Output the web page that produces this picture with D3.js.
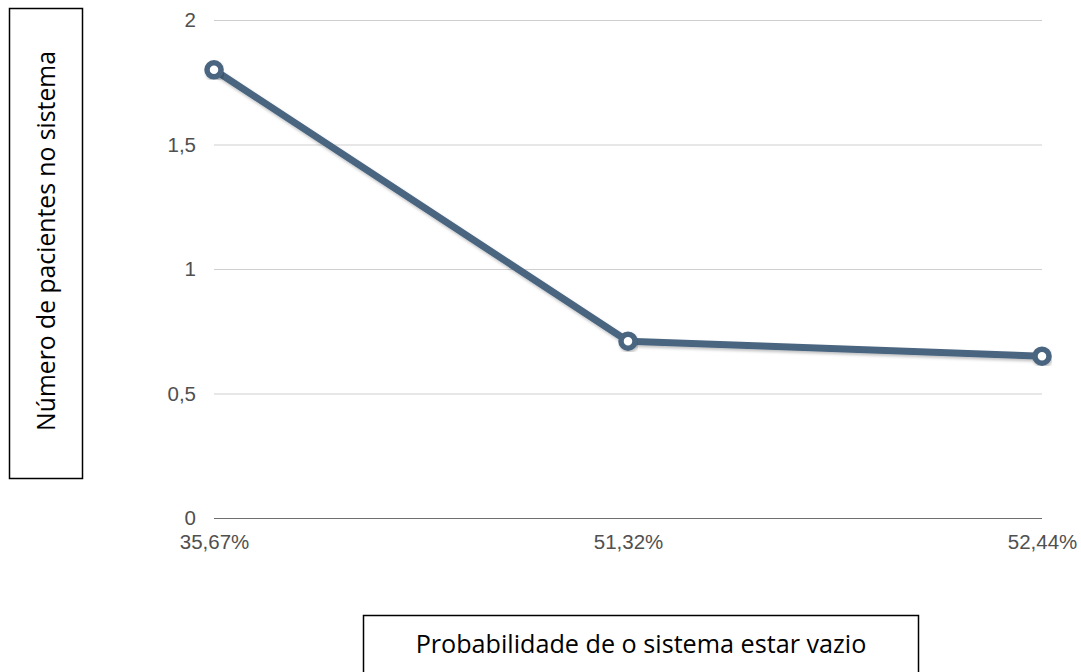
<!DOCTYPE html>
<html>
<head>
<meta charset="utf-8">
<script src="https://cdn.jsdelivr.net/npm/d3@7"></script>
<style>
  html, body { margin: 0; padding: 0; background: #fff; }
  svg { display: block; }
</style>
</head>
<body>
<svg id="chart" width="1081" height="672"></svg>
<script>
const categories = ["35,67%", "51,32%", "52,44%"];
const values = [1.80, 0.71, 0.65];
const yTicks = [0, 0.5, 1, 1.5, 2];
const yTickLabels = ["0", "0,5", "1", "1,5", "2"];
const xTitle = "Probabilidade de o sistema estar vazio";
const yTitle = "Número de pacientes no sistema";

(function () {
const svg = d3.select("#chart");
const mLeft = 214, mRight = 1042, mTop = 20, mBottom = 518;

const x = d3.scalePoint().domain(categories).range([mLeft, mRight]).padding(0);
const y = d3.scaleLinear().domain([0, 2]).range([mBottom, mTop]);

const defs = svg.append("defs");
const f = defs.append("filter").attr("id", "shadow").attr("x", "-20%").attr("y", "-20%").attr("width", "140%").attr("height", "140%");
f.append("feDropShadow").attr("dx", 1).attr("dy", 2).attr("stdDeviation", 1.5).attr("flood-color", "#000").attr("flood-opacity", 0.25);

const tickFont = "Liberation Sans, Arial, sans-serif";
// gridlines
const yAxis = d3.axisLeft(y).tickValues(yTicks).tickSize(-(mRight - mLeft)).tickPadding(18)
  .tickFormat((d, i) => yTickLabels[i]);
const gy = svg.append("g").attr("transform", `translate(${mLeft},0)`).call(yAxis);
gy.select(".domain").remove();
gy.selectAll(".tick line").attr("stroke", d => d === 0 ? "#6e6e6e" : "#cfcfcf").attr("stroke-width", 1);
gy.selectAll(".tick text").attr("font-family", tickFont).attr("font-size", 20.5)
  .attr("fill", "#505050").attr("dy", "0.34em");

// x axis labels
const xAxis = d3.axisBottom(x).tickSize(0).tickPadding(12);
const gx = svg.append("g").attr("transform", `translate(0,${mBottom})`).call(xAxis);
gx.select(".domain").remove();
gx.selectAll(".tick text").attr("font-family", tickFont).attr("font-size", 20.5)
  .attr("fill", "#505050").attr("dy", "0.95em");

// line
const color = "#4a6580";
const line = d3.line().x((d, i) => x(categories[i])).y(d => y(d));
svg.append("path").datum(values).attr("d", line).attr("fill", "none")
  .attr("stroke", color).attr("stroke-width", 7).attr("stroke-linejoin", "round").attr("filter", "url(#shadow)");
svg.append("g").selectAll("circle").data(values).join("circle")
  .attr("cx", (d, i) => x(categories[i])).attr("cy", d => y(d)).attr("r", 7)
  .attr("fill", "#fff").attr("stroke", color).attr("stroke-width", 5.5).attr("filter", "url(#shadow)");

// y title box
svg.append("rect").attr("x", 9.5).attr("y", 8.5).attr("width", 73).attr("height", 470)
  .attr("fill", "none").attr("stroke", "#000").attr("stroke-width", 1.5);
const yt = svg.append("text").attr("transform", "translate(46,241) rotate(-90)")
  .attr("text-anchor", "middle").attr("dy", "0.35em")
  .attr("font-family", "Open Sans, Noto Sans, sans-serif").attr("font-size", 24).attr("fill", "#000").text(yTitle);
let w = yt.node().getComputedTextLength();
yt.attr("font-size", 24 * 380 / w);

// x title box
svg.append("rect").attr("x", 363.5).attr("y", 615.5).attr("width", 555).attr("height", 80)
  .attr("fill", "none").attr("stroke", "#000").attr("stroke-width", 1.5);
const xt = svg.append("text").attr("x", 641).attr("y", 653)
  .attr("text-anchor", "middle")
  .attr("font-family", "Open Sans, Noto Sans, sans-serif").attr("font-size", 24).attr("fill", "#000").text(xTitle);
w = xt.node().getComputedTextLength();
xt.attr("font-size", 24 * 451 / w);
})();
</script>
</body>
</html>
